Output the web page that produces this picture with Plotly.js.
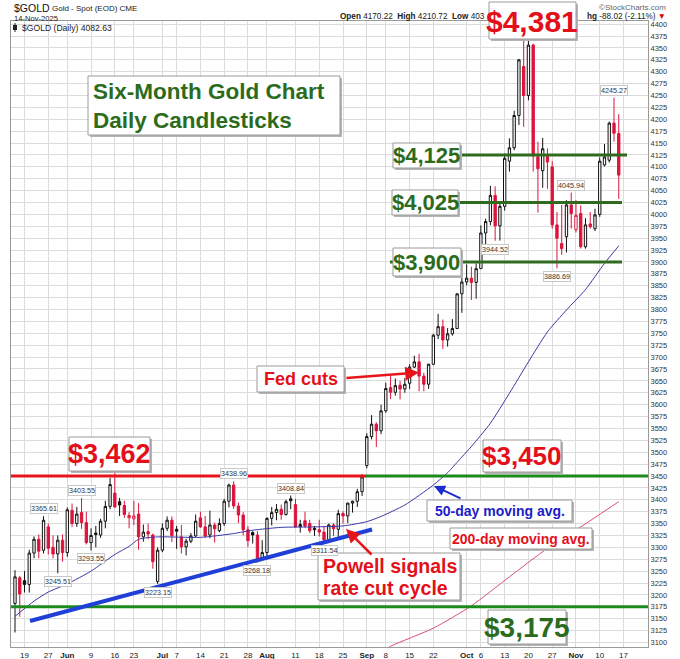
<!DOCTYPE html>
<html><head><meta charset="utf-8">
<script src="https://cdn.plot.ly/plotly-3.0.1.min.js"></script>
<style>html,body{margin:0;padding:0;background:#fff}</style>
</head><body>
<div id="chart" style="width:680px;height:659px"></div>
<script>
// ---------- DATA ----------
const holidays = ['2025-05-26','2025-06-19','2025-07-04','2025-09-01'];
function tradingDays(start, end, skip) {
  const out = [];
  const d = new Date(start + 'T00:00:00Z');
  const e = new Date(end + 'T00:00:00Z');
  while (d <= e) {
    const wd = d.getUTCDay();
    const s = d.toISOString().slice(0, 10);
    if (wd !== 0 && wd !== 6 && !skip.includes(s)) out.push(s);
    d.setUTCDate(d.getUTCDate() + 1);
  }
  return out;
}
const dates = tradingDays('2025-05-15', '2025-11-21', holidays);

const opens = [3182,3236,3230,3222,3288,3317,3294,3343,3300,3286,3315,
 3289,3378,3350,3373,3352,3310,3330,3326,3355,3386,
 3414,3396,3388,3362,3360,3370,3322,3333,3326,3228,
 3294,3340,3357,3338,3322,3301,3313,3324,3362,3343,3326,3347,3335,
 3350,3397,3431,3387,3368,3337,3331,3326,3276,3289,
 3361,3373,3380,3369,3402,3390,3343,3356,3350,3340,
 3337,3332,3316,3347,3338,3371,3366,3393,3397,3417,
 3472,3533,3559,3545,3587,3636,3626,3641,3633,
 3645,3679,3690,3660,3643,3685,3746,3764,3736,3749,
 3760,3833,3858,3866,3857,3886,3961,3985,4040,3976,
 4017,4112,4140,4208,4311,4250,4356,4121,4092,4122,
 4100,3978,3939,3953,4020,3968,4002,3932,3980,3970,
 4000,4104,4114,4192,4170.22];
const highs = [3252,3240,3250,3295,3323,3327,3365.61,3350,3325,3325,3327,
 3384,3392,3385,3403.55,3375,3340,3345,3360,3398,3446,
 3462,3404,3398,3374,3398,3393,3348,3350,3329,3300,
 3350,3365,3365,3345,3347,3318,3330,3369,3375,3366,3377,3352,3361,
 3402,3434,3438.96,3394,3374,3345,3334,3334,3315,3363,
 3385,3391,3390,3400,3408.84,3402,3358,3375,3358,3345,
 3358,3345,3350,3351,3379,3376,3394,3398,3423,3454,
 3540,3578,3563,3600,3646,3660,3655,3650,3656,
 3685,3703,3707,3667,3686,3749,3791,3779,3761,3780,
 3834,3872,3895,3890,3897,3977,3991,4060,4059,4022,
 4128,4160,4218,4327,4379,4381,4359,4153,4161,4139,
 4112,4005,4020,4030,4045.94,4030,4019,3992,4005,4012,
 4120,4148,4195,4245.27,4210.72];
const lows = [3121,3154,3205,3205,3277,3277,3287,3285,3277,3245.51,3270,
 3280,3343,3343,3339,3306,3293.55,3300,3320,3340,3380,
 3383,3366,3362,3340,3347,3295,3312,3317,3255,3223.15,
 3290,3334,3311,3297,3287,3283,3309,3322,3341,3320,3319,3310,3332,
 3345,3384,3381,3351,3325,3301,3308,3268.18,3273,3281,
 3346,3357,3358,3367,3380,3342,3331,3341,3330,3324,
 3323,3311.54,3313,3324,3322,3350,3351,3373,3385,3408,
 3466,3527,3511,3538,3583,3612,3619,3611,3625,
 3633,3677,3628,3628,3633,3683,3738,3717,3722,3745,
 3759,3793,3851,3820,3823,3886,3935,3977,3944.52,3945,
 4008,4090,4135,4188,4184,4240,4090,4004,4056,4054,
 3970,3886.69,3915,3920,3970,3962,3928,3928,3970,3965,
 3995,4101,4109,4153,4032.60];
const closes = [3238,3202,3222,3288,3317,3292,3357,3298,3286,3315,3289,
 3379,3350,3370,3352,3310,3325,3327,3355,3386,3432,
 3385,3389,3369,3367,3366,3322,3332,3328,3270,3294,
 3340,3357,3325,3334,3301,3313,3324,3355,3343,3324,3347,3339,3350,
 3397,3431,3387,3368,3337,3314,3326,3274,3289,3361,
 3373,3380,3369,3396,3398,3343,3348,3345,3335,3337,
 3332,3316,3347,3339,3371,3366,3393,3397,3417,3448,
 3533,3559,3545,3587,3634,3626,3640,3633,3643,
 3679,3690,3660,3643,3685,3746,3764,3736,3749,3760,
 3833,3858,3866,3857,3886,3961,3985,4040,3976,4017,
 4118,4140,4208,4325,4250,4356,4123,4096,4138,4110,
 3978,3950,3928,4020,4002,3998,3932,3978,3974,3999,
 4112,4121,4192,4170.65,4082.63];

// moving averages at sample dates
const ma50Dates = ['2025-05-15','2025-05-21','2025-05-27','2025-06-02','2025-06-09','2025-06-16','2025-06-20','2025-06-24','2025-06-30','2025-07-14','2025-07-23','2025-07-29','2025-08-06','2025-08-15','2025-08-25','2025-09-02','2025-09-05','2025-09-12','2025-09-22','2025-09-25','2025-09-30','2025-10-02','2025-10-08','2025-10-14','2025-10-20','2025-10-24','2025-10-30','2025-11-05','2025-11-11','2025-11-14'];
const ma50Values = [3155,3187,3206,3223,3250,3285,3302,3317,3322,3321,3329,3336,3342,3343,3345,3354,3365,3389,3431,3457,3490,3512,3561,3624,3690,3753,3799,3842,3897,3934];
const ma200Dates = ['2025-09-03','2025-09-09','2025-09-22','2025-10-02','2025-10-14','2025-10-24','2025-11-04','2025-11-14'];
const ma200Values = [3068,3092,3130,3177,3238,3298,3343,3396];

// annotated highs / lows
const markDates = ['2025-05-23','2025-06-05','2025-05-29','2025-06-09','2025-06-30','2025-07-23','2025-07-30','2025-08-08','2025-08-19','2025-10-09','2025-10-28','2025-10-31','2025-11-13'];
const markKinds = ['high','high','low','low','low','high','low','high','low','low','low','high','high'];

const tickDates = ['2025-05-19','2025-05-27','2025-06-02','2025-06-09','2025-06-16','2025-06-23','2025-07-01','2025-07-07','2025-07-14','2025-07-21','2025-07-28','2025-08-01','2025-08-11','2025-08-18','2025-08-25','2025-09-02','2025-09-08','2025-09-15','2025-09-22','2025-10-01','2025-10-06','2025-10-13','2025-10-20','2025-10-27','2025-11-03','2025-11-10','2025-11-17'];
const tickLabels = ['19','27','Jun','9','16','23','Jul','7','14','21','28','Aug','11','18','25','Sep','8','15','22','Oct','6','13','20','27','Nov','10','17'];

const breakoutLevel = 3450;
const floorLevel = 3175;
const levelValues = [4125, 4025, 3900];

// ---------- BUILD ----------
const idx = d => dates.indexOf(d);
const N = closes.length;
const up = {x:[],open:[],high:[],low:[],close:[]};
const dn = {x:[],open:[],high:[],low:[],close:[]};
for (let i = 0; i < N; i++) {
  const t = (i === 0 || closes[i] >= closes[i-1]) ? up : dn;
  t.x.push(i); t.open.push(opens[i]); t.high.push(highs[i]); t.low.push(lows[i]); t.close.push(closes[i]);
}
const RED = '#dc143c';
const traces = [
  {type:'candlestick', x:up.x, open:up.open, high:up.high, low:up.low, close:up.close,
   increasing:{line:{color:'#111',width:1}, fillcolor:'#ffffff'},
   decreasing:{line:{color:'#111',width:1}, fillcolor:'#111111'},
   whiskerwidth:0, hoverinfo:'skip', showlegend:false},
  {type:'candlestick', x:dn.x, open:dn.open, high:dn.high, low:dn.low, close:dn.close,
   increasing:{line:{color:RED,width:1}, fillcolor:'#ffffff'},
   decreasing:{line:{color:RED,width:1}, fillcolor:RED},
   whiskerwidth:0, hoverinfo:'skip', showlegend:false},
  {type:'scatter', mode:'lines', x:ma50Dates.map(idx), y:ma50Values,
   line:{color:'#3a3aa6', width:1, shape:'spline', smoothing:0.6}, hoverinfo:'skip', showlegend:false},
  {type:'scatter', mode:'lines', x:ma200Dates.map(idx), y:ma200Values,
   line:{color:'#d9506e', width:1, shape:'spline', smoothing:0.6}, hoverinfo:'skip', showlegend:false}
];

// pixel -> paper helpers (plot area: x 11..648, y 21..647)
const L = 11, R = 648, T = 21, B = 647;
const PX = x => (x - L) / (R - L);
const PY = y => (B - y) / (B - T);

const shapes = [];
const annotations = [];
const SANS = 'Liberation Sans, Arial, sans-serif';
const NARROW = 'Liberation Sans Narrow, Arial Narrow, Liberation Sans, Arial, sans-serif';
const TXTRED = '#e3101a', TXTGREEN = '#2b6b1b', TXTBLUE = '#1c1cc8';

function hline(x0, x1, level, color, w) {
  shapes.push({type:'line', xref:'paper', yref:'y', x0:PX(x0), x1:PX(x1), y0:level, y1:level,
    line:{color:color, width:w}});
}
function box(x0, y0, x1, y1) {
  shapes.push({type:'rect', xref:'paper', yref:'paper', x0:PX(x0+2), x1:PX(x1+2), y0:PY(y1+2), y1:PY(y0+2),
    fillcolor:'#b4b4b4', line:{width:0}});
  shapes.push({type:'rect', xref:'paper', yref:'paper', x0:PX(x0), x1:PX(x1), y0:PY(y1), y1:PY(y0),
    fillcolor:'#ffffff', line:{color:'#9a9a9a', width:1}});
}
function text(cx, cy, t, size, color, family, anchor) {
  annotations.push({xref:'paper', yref:'paper', x:PX(cx), y:PY(cy), text:t, showarrow:false,
    xanchor:anchor || 'center', yanchor:'middle', font:{size:size, color:color, family:family || SANS}});
}
function arrow(tx, ty, hx, hy, color, w) {
  annotations.push({xref:'paper', yref:'paper', x:PX(hx), y:PY(hy), ax:tx-hx, ay:ty-hy,
    axref:'pixel', ayref:'pixel', text:'', showarrow:true, arrowhead:2, arrowsize:1.1,
    arrowwidth:w, arrowcolor:color});
}

// level lines
hline(L, 366, breakoutLevel, '#e8141c', 3);
hline(366, R, breakoutLevel, '#1d8a1d', 3);
hline(L, R, floorLevel, '#1d8a1d', 3);
hline(393, 627, levelValues[0], '#2f6a1f', 3);
hline(392, 622, levelValues[1], '#2f6a1f', 3);
hline(390, 622, levelValues[2], '#2f6a1f', 3);
// trend line
shapes.push({type:'line', xref:'paper', yref:'paper', x0:PX(30), y0:PY(621), x1:PX(372), y1:PY(529.5),
  line:{color:'#1f3fd6', width:4}});
// legend icon
shapes.push({type:'line', xref:'paper', yref:'paper', x0:PX(15), x1:PX(15), y0:PY(23), y1:PY(32), line:{color:'#222', width:1}});
shapes.push({type:'rect', xref:'paper', yref:'paper', x0:PX(13), x1:PX(17), y0:PY(30), y1:PY(25), fillcolor:'#222', line:{width:0}});

// boxes
box(88, 76, 340, 135);
box(489, 2, 576, 39);
box(69, 437, 150, 471);
box(483, 440, 561, 472);
box(393, 143, 460, 168);
box(392, 190, 458, 215);
box(393, 248, 461, 276);
box(488, 610, 566, 644);
box(257, 366, 344, 392);
box(318, 553, 460, 600);
box(427, 500, 572, 521);
box(450, 528, 592, 549);

// header texts
text(12, 8, '$GOLD', 10.5, '#111', NARROW, 'left');
text(50, 8.5, 'Gold - Spot (EOD) CME', 8, '#222', NARROW, 'left');
text(12, 18, '14-Nov-2025', 7.6, '#222', SANS, 'left');
text(487, 17, '<b>Open</b> 4170.22  <b>High</b> 4210.72  <b>Low</b> 403', 8.2, '#222', SANS, 'right');
text(668, 17, '<b>hg</b> -88.02 (-2.11%) <span style="color:#d00">▼</span>', 8.2, '#222', SANS, 'right');
text(668, 7, '©StockCharts.com', 8, '#666', SANS, 'right');
text(20, 28, '$GOLD (Daily) 4082.63', 8.6, '#222', SANS, 'left');

// box texts
text(91, 92, '<b>Six-Month Gold Chart</b>', 22.5, TXTGREEN, SANS, 'left');
text(91, 120, '<b>Daily Candlesticks</b>', 22.5, TXTGREEN, SANS, 'left');
text(532, 21, '<b>$4,381</b>', 30, TXTRED, NARROW);
text(109.5, 454, '<b>$3,462</b>', 27, TXTRED, NARROW);
text(522, 456, '<b>$3,450</b>', 26, TXTRED, NARROW);
text(426.5, 155.5, '<b>$4,125</b>', 22, TXTGREEN, NARROW);
text(425, 202.5, '<b>$4,025</b>', 22, TXTGREEN, NARROW);
text(427, 262, '<b>$3,900</b>', 22, TXTGREEN, NARROW);
text(527, 627, '<b>$3,175</b>', 28, TXTGREEN, NARROW);
text(300.5, 379, '<b>Fed cuts</b>', 18, TXTRED, SANS);
text(321, 566, '<b>Powell signals</b>', 19.5, TXTRED, SANS, 'left');
text(321, 588, '<b>rate cut cycle</b>', 19.5, TXTRED, SANS, 'left');
text(499.5, 510.5, '<b>50-day moving avg.</b>', 14, TXTBLUE, SANS);
text(521, 538.5, '<b>200-day moving avg.</b>', 14, TXTRED, SANS);

// arrows
arrow(345, 378, 419, 372.5, '#e8141c', 2.5);
arrow(373, 556, 346, 529, '#e8141c', 2.5);
arrow(462, 499, 434, 486, '#1c2ad0', 2);

// high/low value labels
markDates.forEach((d, k) => {
  const i = idx(d);
  const isHigh = markKinds[k] === 'high';
  const v = isHigh ? highs[i] : lows[i];
  annotations.push({x:i, y:v, xref:'x', yref:'y', text:v.toFixed(2), showarrow:false,
    xanchor:'center', yanchor: isHigh ? 'bottom' : 'top', yshift: isHigh ? 2 : -3,
    font:{size:7.2, color:'#333', family:SANS}, bgcolor:'#ffffff', bordercolor:'#c8c8c8', borderwidth:1, borderpad:0});
});

const tickvals = tickDates.map(d => idx(d));
const ticktext = tickLabels.map(t => /[A-Za-z]/.test(t) ? '<b>' + t + '</b>' : t);

const layout = {
  width:680, height:659,
  margin:{l:L, r:680-R, t:T, b:659-B, pad:0},
  paper_bgcolor:'#ffffff', plot_bgcolor:'#ffffff',
  showlegend:false,
  xaxis:{type:'linear', range:[(L-15)/4.754, (R-15)/4.754], tickvals:tickvals, ticktext:ticktext,
    tickfont:{size:8, color:'#222', family:SANS}, showgrid:true, gridcolor:'#dcdcdc', gridwidth:1,
    zeroline:false, showline:true, linecolor:'#9a9a9a', linewidth:1, mirror:true, ticks:'',
    rangeslider:{visible:false}, fixedrange:true},
  yaxis:{side:'right', range:[3450 - (B-476)*2.1026, 3450 + (476-T)*2.1026], tick0:3100, dtick:25,
    tickfont:{size:7.5, color:'#333', family:SANS}, showgrid:true, gridcolor:'#dcdcdc', gridwidth:1,
    zeroline:false, showline:true, linecolor:'#9a9a9a', linewidth:1, mirror:true, ticks:'', fixedrange:true},
  shapes:shapes,
  annotations:annotations
};
Plotly.newPlot('chart', traces, layout, {staticPlot:true, displayModeBar:false});
</script>
</body></html>
